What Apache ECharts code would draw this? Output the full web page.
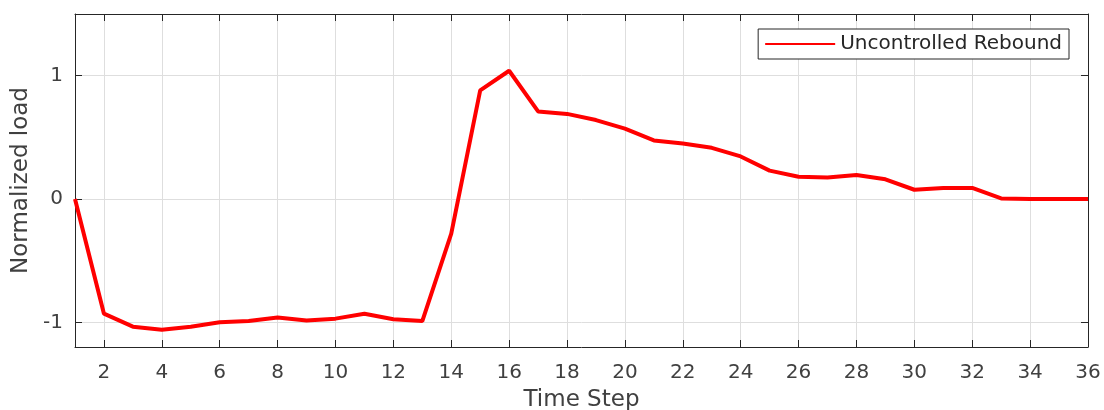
<!DOCTYPE html>
<html>
<head>
<meta charset="utf-8">
<script src="https://cdn.jsdelivr.net/npm/echarts@6/dist/echarts.min.js"></script>
<style>
html,body{margin:0;padding:0;background:#fff;}
#chart{width:1104px;height:410px;}
</style>
</head>
<body>
<div id="chart"></div>
<script>
const timeSteps = [1,2,3,4,5,6,7,8,9,10,11,12,13,14,15,16,17,18,19,20,21,22,23,24,25,26,27,28,29,30,31,32,33,34,35,36];
const uncontrolledRebound = [0,-0.93,-1.035,-1.06,-1.035,-1.0,-0.99,-0.96,-0.985,-0.97,-0.93,-0.975,-0.99,-0.28,0.88,1.04,0.71,0.69,0.64,0.57,0.475,0.45,0.415,0.345,0.23,0.18,0.175,0.195,0.16,0.075,0.09,0.09,0.005,0,0,0];
const xTicks = [2,4,6,8,10,12,14,16,18,20,22,24,26,28,30,32,34,36];
const yTicks = [-1,0,1];
const seriesName = 'Uncontrolled Rebound';

const axisColor = '#262626';
const gridColor = '#dedede';
const fontFamily = 'DejaVu Sans';

const chart = echarts.init(document.getElementById('chart'), null, {renderer:'canvas'});
chart.setOption({
  animation:false,
  backgroundColor:'#fff',
  textStyle:{fontFamily:fontFamily},
  grid:{left:75, right:16, top:14, bottom:63, containLabel:false, outerBoundsMode:'none'},
  legend:{
    data:[seriesName],
    right:35, top:29,
    orient:'horizontal',
    backgroundColor:'#fff',
    borderColor:axisColor, borderWidth:1, borderRadius:0,
    padding:[5,7,5,7],
    itemWidth:70, itemHeight:2, itemGap:0,
    icon:'rect',
    textStyle:{fontSize:20, color:'#262626', fontFamily:fontFamily}
  },
  xAxis:[{
    type:'value', min:1, max:36, position:'bottom',
    name:'Time Step', nameLocation:'middle', nameGap:42,
    nameTextStyle:{fontSize:23, color:'#404040'},
    axisLine:{show:true, onZero:false, lineStyle:{color:axisColor, width:1}},
    axisTick:{show:true, inside:true, length:7, customValues:xTicks, lineStyle:{color:axisColor}},
    axisLabel:{show:true, customValues:xTicks, fontSize:20, color:'#404040', margin:16},
    splitLine:{show:true, lineStyle:{color:gridColor, width:1}}
  },{
    type:'value', min:1, max:36, position:'top',
    axisLine:{show:true, onZero:false, lineStyle:{color:axisColor, width:1}},
    axisTick:{show:true, inside:true, length:7, customValues:xTicks, lineStyle:{color:axisColor}},
    axisLabel:{show:false},
    splitLine:{show:false}
  }],
  yAxis:[{
    type:'value', min:-1.2, max:1.5, position:'left',
    name:'Normalized load', nameLocation:'middle', nameGap:41, nameRotate:90,
    nameTextStyle:{fontSize:23, color:'#404040'},
    axisLine:{show:true, onZero:false, lineStyle:{color:axisColor, width:1}},
    axisTick:{show:true, inside:true, length:7, customValues:yTicks, lineStyle:{color:axisColor}},
    axisLabel:{show:true, customValues:yTicks, fontSize:20, color:'#404040', margin:12},
    splitLine:{show:true, lineStyle:{color:gridColor, width:1}}
  },{
    type:'value', min:-1.2, max:1.5, position:'right',
    axisLine:{show:true, onZero:false, lineStyle:{color:axisColor, width:1}},
    axisTick:{show:true, inside:true, length:7, customValues:yTicks, lineStyle:{color:axisColor}},
    axisLabel:{show:false},
    splitLine:{show:false}
  }],
  series:[{
    name:seriesName,
    type:'line',
    xAxisIndex:0, yAxisIndex:0,
    data:timeSteps.map((t,i)=>[t, uncontrolledRebound[i]]),
    showSymbol:false, symbol:'none',
    lineStyle:{color:'#ff0000', width:4},
    itemStyle:{color:'#ff0000'},
    z:3
  }]
});
</script>
</body>
</html>
